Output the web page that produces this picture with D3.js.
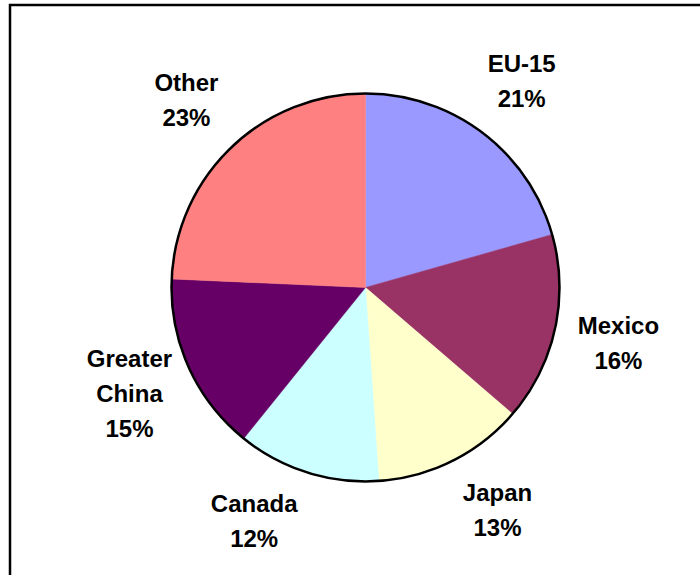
<!DOCTYPE html>
<html>
<head>
<meta charset="utf-8">
<script src="https://cdn.jsdelivr.net/npm/d3@7"></script>
<style>
  html, body { margin: 0; padding: 0; background: #fff; }
  svg { display: block; }
</style>
</head>
<body>
<svg id="chart" width="700" height="575"></svg>
<script>
// ---- data ----
const categories = ["EU-15", "Mexico", "Japan", "Canada", "Greater China", "Other"];
const shares = [20.6, 15.7, 12.6, 11.9, 14.9, 24.3];
const shareLabels = ["21%", "16%", "13%", "12%", "15%", "23%"];
const labelLines = [["EU-15"], ["Mexico"], ["Japan"], ["Canada"], ["Greater", "China"], ["Other"]];
const colors = ["#9999FF", "#993366", "#FFFFCC", "#CCFFFF", "#660066", "#FF8080"];

// ---- layout ----
const W = 700, H = 575;
const cx = 365.5, cy = 287.5, R = 194;
const labelR = 259;
const angleNudge = { "Japan": -4, "Canada": 8 }; // degrees, label collision avoidance

const svg = d3.select("#chart");

// frame
svg.append("path")
  .attr("d", `M${W + 5},5 H10 V${H + 5}`)
  .attr("fill", "none")
  .attr("stroke", "#000")
  .attr("stroke-width", 2.5);

const data = categories.map((c, i) => ({ name: c, value: shares[i], pct: shareLabels[i], lines: labelLines[i], color: colors[i] }));

const pie = d3.pie().sort(null).value(d => d.value);
const arcs = pie(data);
const arc = d3.arc().innerRadius(0).outerRadius(R);

const g = svg.append("g").attr("transform", `translate(${cx},${cy})`);

g.selectAll("path.slice")
  .data(arcs)
  .join("path")
  .attr("class", "slice")
  .attr("d", arc)
  .attr("fill", d => d.data.color)
  .attr("stroke", d => d.data.color)
  .attr("stroke-width", 0.5);

// outline
g.append("circle")
  .attr("r", R)
  .attr("fill", "none")
  .attr("stroke", "#000")
  .attr("stroke-width", 2.5);

// labels
const lineH = 35;
arcs.forEach(a => {
  const mid = (a.startAngle + a.endAngle) / 2 + (angleNudge[a.data.name] || 0) * Math.PI / 180;
  const x = Math.sin(mid) * labelR;
  const y = -Math.cos(mid) * labelR;
  const lines = a.data.lines.concat([a.data.pct]);
  const t = g.append("text")
    .attr("x", x)
    .attr("y", y - (lines.length - 1) * lineH / 2)
    .attr("text-anchor", "middle")
    .attr("font-family", "Liberation Sans, Arial, sans-serif")
    .attr("font-weight", "bold")
    .attr("font-size", 24)
    .attr("fill", "#000");
  lines.forEach((l, i) => {
    t.append("tspan")
      .attr("x", x)
      .attr("dy", i === 0 ? "0.35em" : lineH)
      .text(l);
  });
});
</script>
</body>
</html>
